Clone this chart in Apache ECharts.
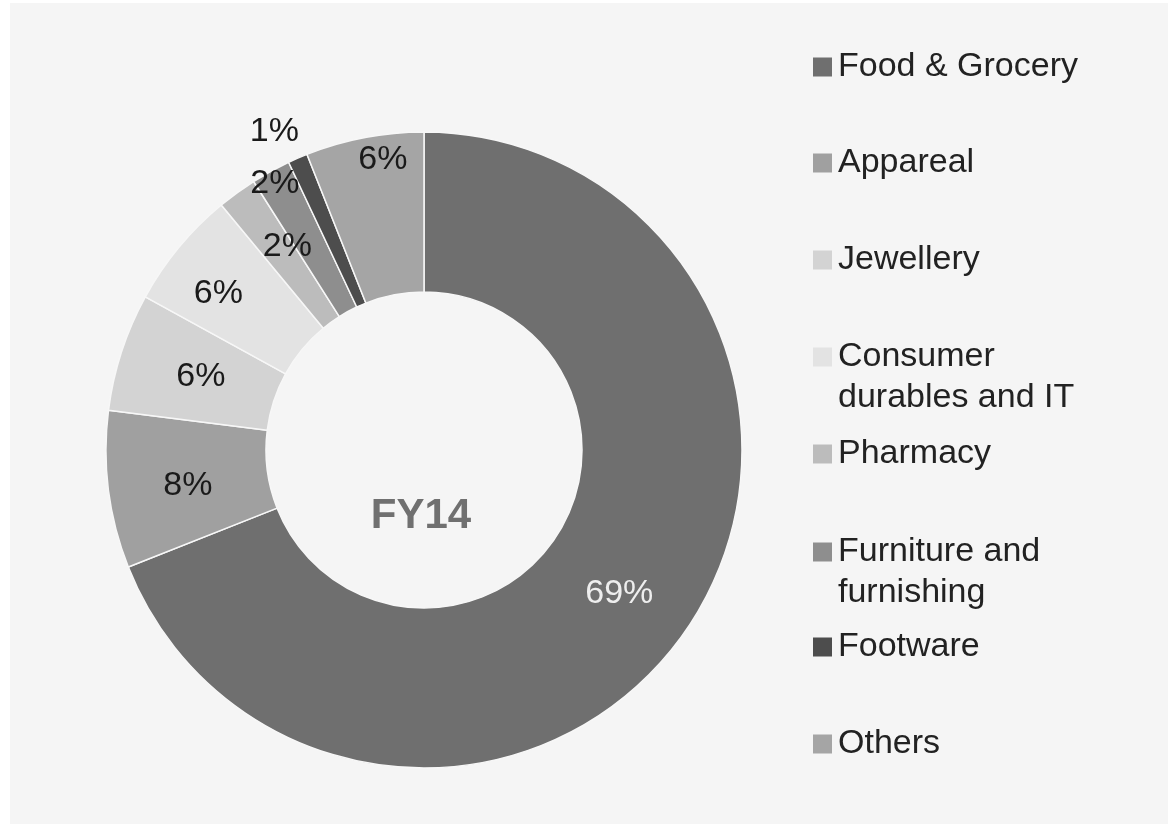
<!DOCTYPE html>
<html>
<head>
<meta charset="utf-8">
<script src="https://cdn.jsdelivr.net/npm/echarts@6/dist/echarts.min.js"></script>
<style>
html,body{margin:0;padding:0;background:#ffffff;}
#chart{width:1168px;height:824px;}
</style>
</head>
<body>
<div id="chart"></div>
<script>
// ---- data ----
var categories = ['Food & Grocery', 'Appareal', 'Jewellery', 'Consumer durables and IT', 'Pharmacy', 'Furniture and furnishing', 'Footware', 'Others'];
var shares = [69, 8, 6, 6, 2, 2, 1, 6];
var centerLabel = 'FY14';
var legendLines = [['Food & Grocery'], ['Appareal'], ['Jewellery'], ['Consumer', 'durables and IT'], ['Pharmacy'], ['Furniture and', 'furnishing'], ['Footware'], ['Others']];

// ---- styles ----
var colors = ['#6f6f6f', '#a0a0a0', '#d3d3d3', '#e3e3e3', '#bcbcbc', '#8e8e8e', '#4d4d4d', '#a5a5a5'];
var labelColors = ['#eeeeee', '#1a1a1a', '#1a1a1a', '#1a1a1a', '#1a1a1a', '#1a1a1a', '#1a1a1a', '#1a1a1a'];
var labelShift = [[-4, 8], [3, 5], [6, 1], [-20, -3], [5, -8], [-33, -55], [-54, -97], [4, -54]];
var legendCenters = [67, 163, 260, 357, 454, 552, 647, 744];
var FONT = "'Liberation Sans', Arial, Helvetica, sans-serif";

var chart = echarts.init(document.getElementById('chart'), null, {renderer: 'canvas'});

var legends = categories.map(function (name, i) {
  return {
    data: [name],
    left: 813,
    top: legendCenters[i] - 20,
    padding: 0,
    icon: 'rect',
    itemWidth: 19,
    itemHeight: 19,
    itemGap: 0,
    itemStyle: {borderWidth: 0},
    selectedMode: false,
    formatter: function () { return legendLines[i][0]; },
    textStyle: {fontSize: 34, color: '#222222', fontFamily: FONT, lineHeight: 40, padding: [0, 0, 0, 1]}
  };
});

var graphics = [
  {type: 'rect', left: 0, top: 0, shape: {x: 0, y: 0, width: 10, height: 824}, style: {fill: '#ffffff'}, silent: true},
  {type: 'rect', left: 0, top: 0, shape: {x: 0, y: 0, width: 1168, height: 3}, style: {fill: '#ffffff'}, silent: true},
  {type: 'text', x: 421, y: 516, style: {text: centerLabel, fontSize: 42, fontWeight: 'bold', fontFamily: FONT, fill: '#707070', align: 'center', verticalAlign: 'middle'}, silent: true}
];
legendLines.forEach(function (lines, i) {
  if (lines.length > 1) {
    graphics.push({type: 'text', x: 838, y: legendCenters[i] + 41, style: {text: lines[1], fontSize: 34, fontFamily: FONT, fill: '#222222', verticalAlign: 'middle'}, silent: true});
  }
});

var option = {
  backgroundColor: '#f5f5f5',
  animation: false,
  color: colors,
  legend: legends,
  graphic: graphics,
  series: [{
    type: 'pie',
    center: [424, 450],
    radius: [158, 318],
    startAngle: 90,
    clockwise: true,
    avoidLabelOverlap: false,
    emphasis: {disabled: true},
    itemStyle: {borderColor: '#f7f7f7', borderWidth: 1.5},
    label: {
      show: true,
      position: 'inside',
      formatter: '{c}%',
      fontSize: 34,
      fontFamily: FONT,
      color: '#1a1a1a'
    },
    labelLine: {show: false},
    labelLayout: function (params) {
      var s = labelShift[params.dataIndex];
      return {dx: s[0], dy: s[1]};
    },
    data: categories.map(function (name, i) {
      return {name: name, value: shares[i], label: {color: labelColors[i]}};
    })
  }]
};
chart.setOption(option);
</script>
</body>
</html>
